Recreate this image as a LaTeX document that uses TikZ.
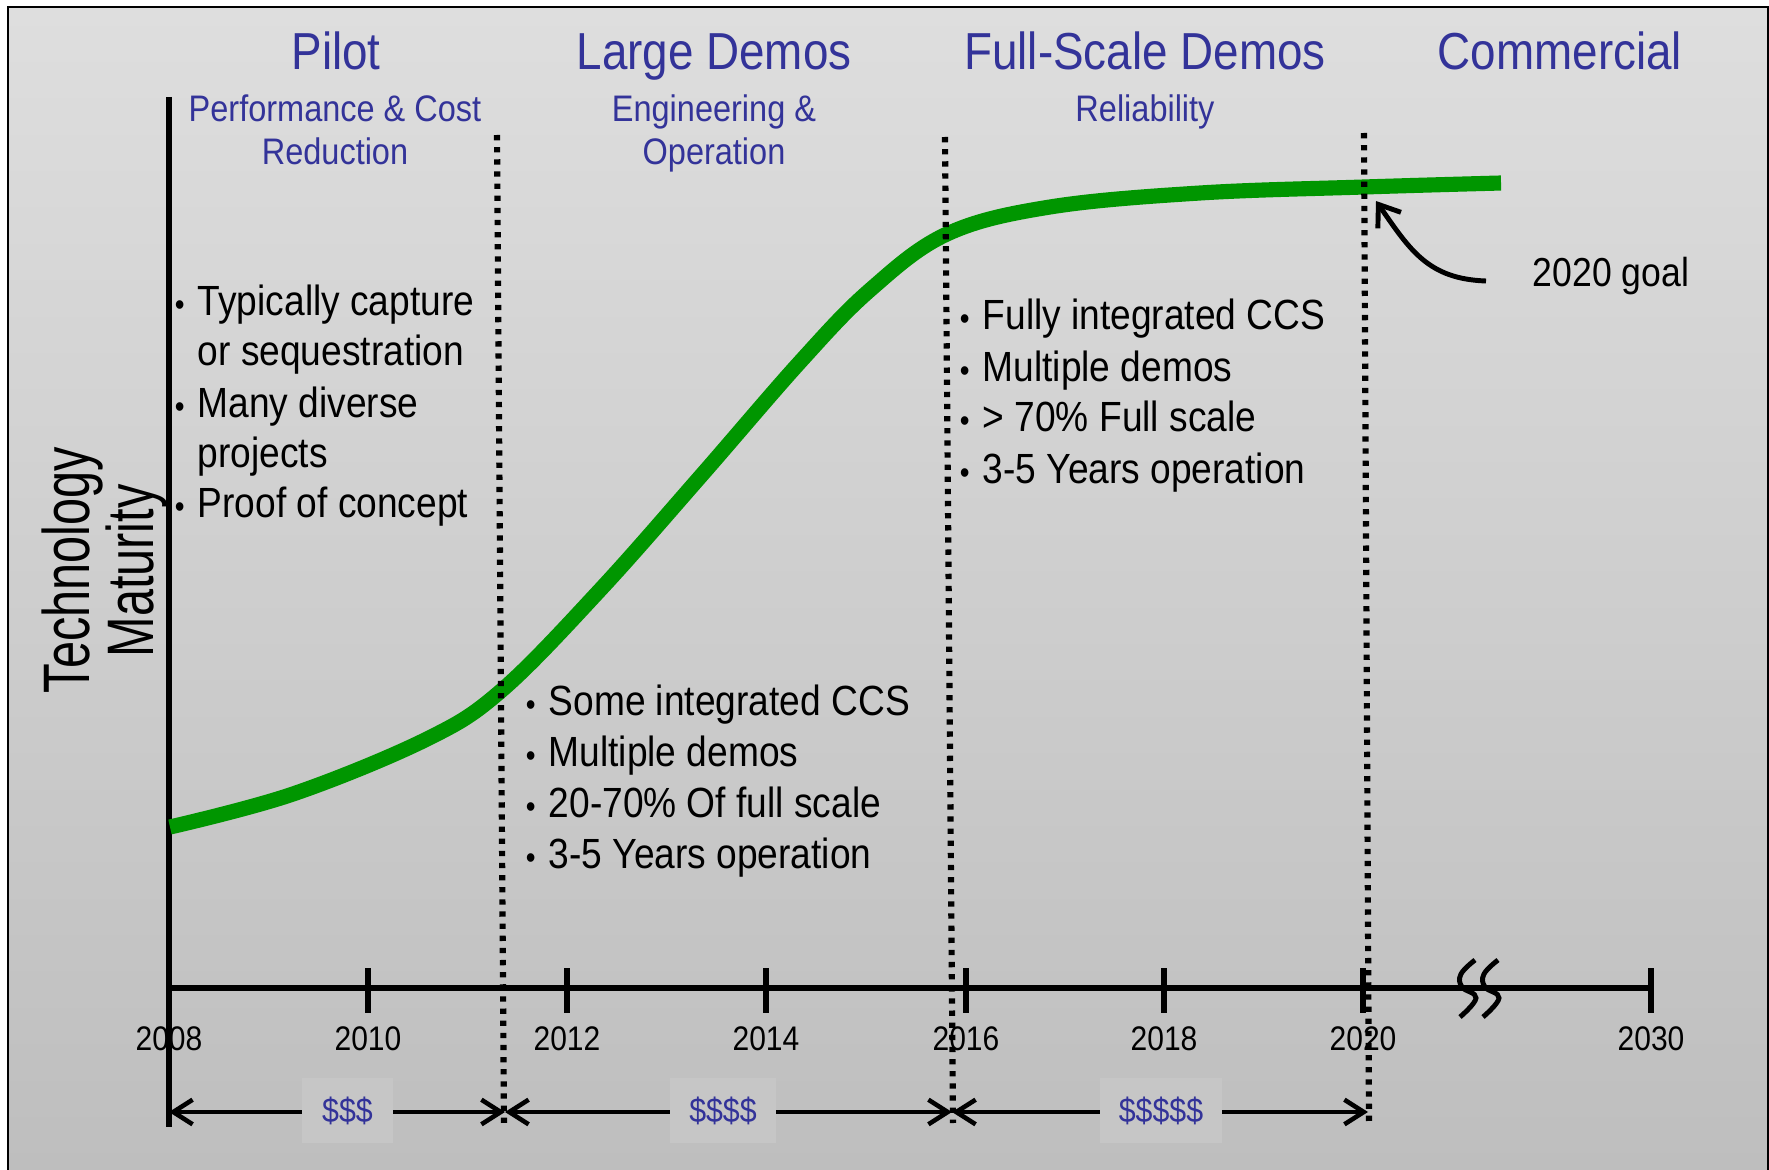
\documentclass[tikz,border=0pt]{standalone}
\usepackage{fontspec}
\setmainfont[FakeStretch=0.88]{Liberation Sans}
\newfontfamily\axisfont[FakeStretch=0.74]{Liberation Sans}
\usetikzlibrary{arrows.meta}
\definecolor{hblue}{RGB}{51,51,153}
\definecolor{bgtop}{RGB}{222,222,222}
\definecolor{bgbot}{RGB}{190,190,190}
\definecolor{boxgray}{RGB}{198,198,198}
\definecolor{cgreen}{RGB}{0,150,0}
\newcommand\mybul{\llap{{\fontsize{9pt}{9pt}\selectfont •}\hspace{0.13cm}}}
\begin{document}
\begin{tikzpicture}[x=0.01cm,y=-0.01cm,
  hdr/.style={text=hblue,font=\fontsize{14.8pt}{17pt}\selectfont,inner sep=0pt,anchor=base},
  sub/.style={text=hblue,font=\fontsize{10.5pt}{12pt}\selectfont,inner sep=0pt,anchor=base},
  bul/.style={font=\fontsize{12pt}{14pt}\selectfont,inner sep=0pt,anchor=base west},
  yr/.style={font=\fontsize{9.7pt}{11pt}\selectfont,inner sep=0pt,anchor=base},
  dol/.style={text=hblue,fill=boxgray,font=\fontsize{9.8pt}{11pt}\selectfont,inner sep=0pt,minimum height=0.65cm},
  ylab/.style={font=\axisfont\fontsize{18.7pt}{20pt}\selectfont,inner sep=0pt,anchor=base,rotate=90},
  axisline/.style={line width=1.8pt,line cap=butt},
  dotline/.style={line width=1.75pt,dash pattern=on 1.5pt off 1.95pt},
  curve/.style={line width=4.3pt,cgreen,line cap=butt},
  dimarrow/.style={line width=1.3pt,{Straight Barb[length=5.5pt,width=7pt]}-{Straight Barb[length=5.5pt,width=7pt]}},
  goalarrow/.style={line width=1.4pt,-{Straight Barb[length=5.5pt,width=8pt]}},
  brk/.style={line width=1.4pt,line cap=butt}
]
\useasboundingbox (0,0) rectangle (1769,1170);
\fill[white] (0,0) rectangle (1769,1170);
\shade[top color=bgtop,bottom color=bgbot] (8,7) rectangle (1768,1171);
\draw[line width=0.8pt] (8,1175) -- (8,7) -- (1768,7) -- (1768,1175);

% axes
\coordinate (yt) at (169,97);
\coordinate (yb) at (169,1127);
\coordinate (xl) at (169,988);
\coordinate (xr) at (1651,988);
\draw[axisline] (yt) -- (yb);
\draw[axisline] (xl) -- (xr);
\foreach \x in {368,567,766,966,1164,1363,1651}
  \draw[axisline] (\x,968) -- (\x,1013);
% axis break
\draw[brk] plot[smooth,tension=0.7] coordinates {(1475,960) (1461,974) (1462,987) (1476,998) (1460,1017)};
\draw[brk] plot[smooth,tension=0.7] coordinates {(1498,960) (1484,974) (1485,987) (1499,998) (1483,1017)};

% maturity curve
\draw[curve] plot[smooth,tension=0.6] coordinates {
 (170,827) (293,794) (427,739) (502,690) (600,590) (700,477) (800,362)
 (870,290) (947,234) (1050,207) (1200,193) (1364,187) (1501,183)};

% phase separators
\coordinate (d1t) at (497,135); \coordinate (d1b) at (504,1125);
\coordinate (d2t) at (945,137); \coordinate (d2b) at (953,1123);
\coordinate (d3t) at (1364,133); \coordinate (d3b) at (1369,1122);
\draw[dotline] (d1t) -- (d1b);
\draw[dotline] (d2t) -- (d2b);
\draw[dotline] (d3t) -- (d3b);

% cost arrows
\coordinate (a0) at (169,1112);
\coordinate (a1) at (505,1112);
\coordinate (a2) at (952,1112);
\coordinate (a3) at (1368,1112);
\draw[dimarrow] (a0) -- (a1);
\draw[dimarrow] (a1) -- (a2);
\draw[dimarrow] (a2) -- (a3);
\node[dol,minimum width=0.91cm] (c1) at (347.5,1110.5) {\$\$\$};
\node[dol,minimum width=1.06cm] (c2) at (723,1110.5) {\$\$\$\$};
\node[dol,minimum width=1.22cm] (c3) at (1161,1110.5) {\$\$\$\$\$};

% goal
\node[font=\fontsize{11.5pt}{13pt}\selectfont,inner sep=0pt,anchor=base west] (goal) at (1532,287) {2020 goal};
\coordinate (gs) at (1486,281);
\coordinate (gt) at (1376,201);
\draw[goalarrow] (gs) .. controls (1428,279) and (1410,250) .. (gt);

% headers
\node[hdr] (h1) at (336,70) {Pilot};
\node[hdr] (h2) at (714,70) {Large Demos};
\node[hdr] (h3) at (1145,70) {Full-Scale Demos};
\node[hdr] (h4) at (1560,70) {Commercial};
\node[sub] (s1a) at (335,122) {Performance \& Cost};
\node[sub] (s1b) at (335,165) {Reduction};
\node[sub] (s2a) at (714,122) {Engineering \&};
\node[sub] (s2b) at (714,165) {Operation};
\node[sub] (s3a) at (1145,122) {Reliability};

% y label
\node[ylab] (yl1) at (90,570) {Technology};
\node[ylab] (yl2) at (153,571) {Maturity};

% years
\node[yr] (y2008) at (169,1050) {2008};
\node[yr] (y2010) at (368,1050) {2010};
\node[yr] (y2012) at (567,1050) {2012};
\node[yr] (y2014) at (766,1050) {2014};
\node[yr] (y2016) at (966,1050) {2016};
\node[yr] (y2018) at (1164,1050) {2018};
\node[yr] (y2020) at (1363,1050) {2020};
\node[yr] (y2030) at (1651,1050) {2030};

% bullets
\node[bul] (l1) at (197,315) {\mybul Typically capture};
\node[bul] (l2) at (197,366) {or sequestration};
\node[bul] (l3) at (197,417) {\mybul Many diverse};
\node[bul] (l4) at (197,467) {projects};
\node[bul] (l5) at (197,518) {\mybul Proof of concept};

\node[bul] (m1) at (548,715) {\mybul Some integrated CCS};
\node[bul] (m2) at (548,766) {\mybul Multiple demos};
\node[bul] (m3) at (548,817) {\mybul 20-70\% Of full scale};
\node[bul] (m4) at (548,868) {\mybul 3-5 Years operation};

\node[bul] (r1) at (982,330) {\mybul Fully integrated CCS};
\node[bul] (r2) at (982,381) {\mybul Multiple demos};
\node[bul] (r3) at (982,432) {\mybul > 70\% Full scale};
\node[bul] (r4) at (982,483) {\mybul 3-5 Years operation};
\end{tikzpicture}
\end{document}
